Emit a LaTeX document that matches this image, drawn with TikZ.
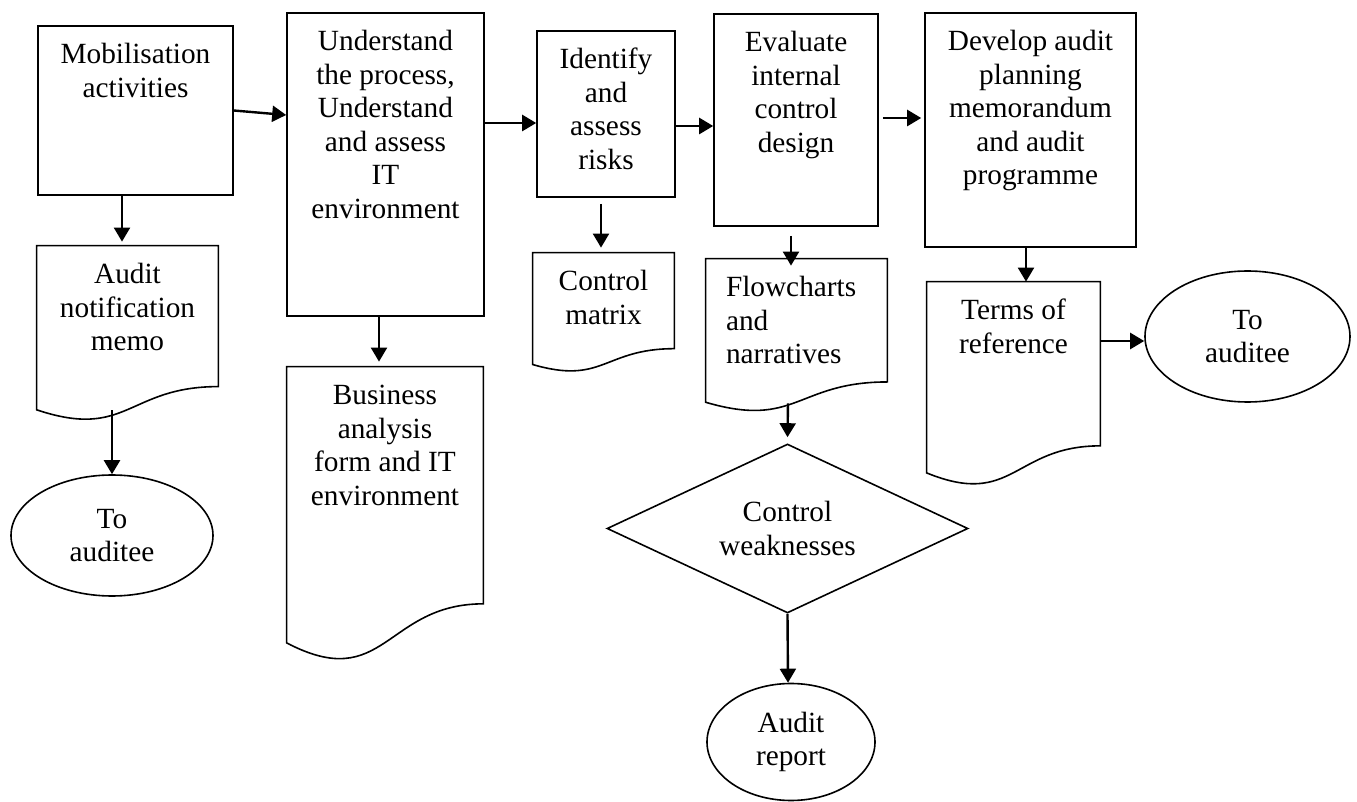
\documentclass[tikz,border=0pt]{standalone}
\usepackage{fontspec}
\setmainfont{Liberation Serif}
\usetikzlibrary{shapes.geometric,arrows.meta,calc}
\newcommand{\boxfont}{\fontsize{14.65pt}{16.8pt}\selectfont}
\newcommand{\toptext}[4][\centering]{\parbox[t][#3][t]{#2}{#1\vspace*{7pt}\strut #4}}
\newcommand{\docline}[1]{%
  \path[draw,line width=0.8pt] let \p1=(#1.north west), \p2=(#1.south east), \n1={\y1-\y2} in
    (\x1,\y1) -- (\x2,\y1) -- (\x2,{\y2+0.198*\n1})
    .. controls ({(\x1+\x2)/2},{\y2+0.198*\n1}) and ({(\x1+\x2)/2},{\y2-0.1075*\n1}) .. (\x1,{\y2+0.066*\n1}) -- cycle;}
\tikzset{
  procbox/.style={draw, rectangle, inner sep=0pt, line width=0.8pt},
  docbox/.style={rectangle, inner sep=0pt},
  termbox/.style={draw, ellipse, inner sep=0pt, align=center, line width=0.8pt},
  decbox/.style={draw, diamond, aspect=2.14, inner sep=0pt, align=center, line width=0.8pt},
  arr/.style={line width=1.2pt, -{Triangle[width=8pt,length=7pt]}}
}
\begin{document}
\begin{tikzpicture}[x=0.5pt, y=-0.5pt, font=\boxfont]
\useasboundingbox (0,0) rectangle (1357,802);
\node[procbox] (1) at (135.5,110.5) {\toptext{97.5pt}{84.5pt}{Mobilisation\\activities}};
\node[docbox] (2) at (127.5,333.5) {\toptext{90.5pt}{87.5pt}{Audit\\notification\\memo}};
\node[termbox, minimum width=101pt, minimum height=60.5pt] (3) at (112,535.5) {To\\auditee};
\node[procbox] (4) at (385.5,164.5) {\toptext{98.5pt}{151.5pt}{Understand\\the process,\\Understand\\and assess\\IT\\environment}};
\node[docbox] (5) at (385,514.5) {\toptext{98pt}{147.5pt}{Business\\analysis\\form and IT\\environment}};
\node[procbox] (6) at (606,114) {\toptext{69pt}{83pt}{Identify\\and\\assess\\risks}};
\node[docbox] (7) at (603.5,312.5) {\toptext{70.5pt}{59.5pt}{Control\\matrix}};
\node[procbox] (8) at (796,120) {\toptext{82pt}{106pt}{Evaluate\\internal\\control\\design}};
\node[docbox] (9) at (796.5,335.5) {\toptext[\raggedright\leftskip=10pt]{90.5pt}{76.5pt}{Flowcharts\\and\\narratives}};
\node[decbox, minimum width=180.5pt, minimum height=84.5pt] (10) at (787.5,528.5) {Control\\weaknesses};
\node[termbox, minimum width=84pt, minimum height=58.5pt] (11) at (791,742) {Audit\\report};
\node[procbox] (12) at (1030.5,130) {\toptext{105.5pt}{117pt}{Develop audit\\planning\\memorandum\\and audit\\programme}};
\node[docbox] (13) at (1013.5,384) {\toptext{86.5pt}{102pt}{Terms of\\reference}};
\node[termbox, minimum width=102.5pt, minimum height=65.5pt] (14) at (1247.5,336.5) {To\\auditee};
\docline{2}
\docline{5}
\docline{7}
\docline{9}
\docline{13}
\path[draw,arr] (1.east) -- ([yshift=24.75pt]4.west);
\path[draw,arr] ([xshift=-6.75pt]1.south) -- ([xshift=-2.75pt,yshift=2pt]2.north);
\path[draw,arr] ([xshift=-7.75pt,yshift=5.5pt]2.south) -- (3.north);
\path[draw,arr] ([yshift=20.75pt]4.east) -- ([yshift=-4.5pt]6.west);
\path[draw,arr] ([xshift=-3.25pt]4.south) -- ([xshift=-3pt,yshift=2.5pt]5.north);
\path[draw,arr] ([yshift=-6pt]6.east) -- ([yshift=-3pt]8.west);
\path[draw,arr] ([xshift=-2.5pt,yshift=-3pt]6.south) -- ([xshift=-1.25pt,yshift=2.5pt]7.north);
\path[draw,arr] ([xshift=2pt,yshift=1pt]8.east) -- ([xshift=-1.5pt,yshift=6pt]12.west);
\path[draw,arr] ([xshift=-2.5pt,yshift=-4.5pt]8.south) -- ([xshift=-2.75pt,yshift=-3.5pt]9.north);
\path[draw,arr] ([xshift=-4.25pt,yshift=4.5pt]9.south) -- ([yshift=3pt]10.north);
\path[draw,arr] (10.south) -- ([xshift=-1.5pt]11.north);
\path[draw,arr] ([xshift=-2.25pt]12.south) -- ([xshift=6.25pt]13.north);
\path[draw,arr] ([yshift=21.5pt]13.east) -- ([yshift=-2.25pt]14.west);
\end{tikzpicture}
\end{document}
